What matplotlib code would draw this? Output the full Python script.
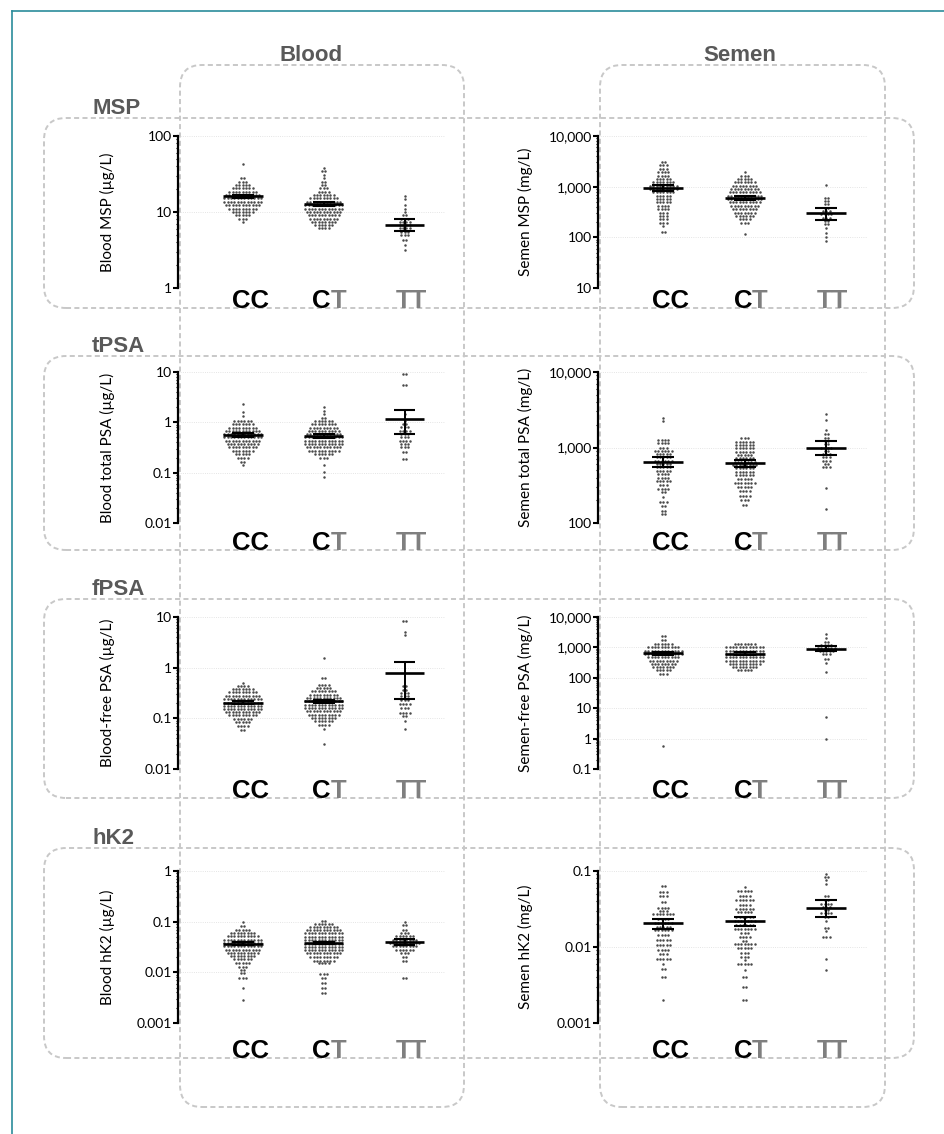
import matplotlib
matplotlib.use('Agg')
from matplotlib import pyplot as plt
from matplotlib.patches import FancyBboxPatch
from matplotlib.lines import Line2D
from matplotlib.transforms import IdentityTransform, blended_transform_factory
from matplotlib.ticker import LogLocator, FuncFormatter, NullFormatter

W, H = 945, 1134

genotypes = ['CC', 'CT', 'TT']
row_names = ['MSP', 'tPSA', 'fPSA', 'hK2']
col_names = ['Blood', 'Semen']

# each dot column is read as rows: (value, number of dots in that row)
blood_msp_cc = [(43, 1), (27.7, 2), (25, 3), (22.6, 5), (20.4, 7), (18.5, 9), (16.7, 11), (15.1, 12),
                (13.6, 12), (12.3, 11), (11.1, 9), (10, 7), (9.1, 5), (8.2, 3), (7.4, 1)]
blood_msp_ct = [(38, 1), (35, 2), (31, 1), (28, 1), (25, 2), (22.6, 2), (20.4, 3), (18.5, 4), (16.7, 7),
                (15.1, 9), (13.6, 11), (12.3, 12), (11.1, 12), (10, 11), (9.1, 10), (8.2, 9), (7.4, 8),
                (6.7, 6), (6.1, 4)]
blood_msp_tt = [(16, 1), (15, 1), (12.3, 1), (11.1, 1), (10, 1), (9.1, 2), (8.2, 3), (7.4, 4), (6.7, 4),
                (6.1, 4), (5.5, 3), (4.95, 3), (4.3, 2), (3.66, 1), (3.14, 1)]
blood_msp_mean = [16, 12.8, 6.7]
blood_msp_ci = [(15.3, 16.8), (12.1, 13.5), (5.6, 8.1)]

semen_msp_cc = [(3070, 2), (2630, 3), (2260, 3), (1930, 4), (1660, 4), (1420, 5), (1220, 7), (1050, 9),
                (900, 9), (770, 7), (660, 5), (570, 5), (490, 5), (420, 4), (360, 4), (307, 3), (263, 3),
                (226, 3), (194, 3), (166, 1), (128, 2)]
semen_msp_ct = [(1930, 1), (1660, 3), (1420, 5), (1220, 7), (1050, 8), (900, 9), (770, 10), (660, 11),
                (570, 11), (490, 10), (420, 9), (360, 8), (307, 7), (263, 6), (226, 4), (194, 3), (117, 1)]
semen_msp_tt = [(1100, 1), (610, 2), (520, 2), (450, 2), (385, 2), (330, 3), (283, 4), (243, 3), (210, 2),
                (180, 2), (155, 1), (122, 1), (100, 1), (83, 1)]
semen_msp_mean = [950, 600, 300]
semen_msp_ci = [(830, 1090), (550, 660), (215, 385)]

blood_tpsa_cc = [(2.3, 1), (1.6, 1), (1.35, 1), (1.06, 6), (0.91, 7), (0.78, 9), (0.67, 11), (0.58, 12),
                 (0.50, 12), (0.43, 11), (0.37, 10), (0.32, 9), (0.27, 7), (0.236, 5), (0.20, 4),
                 (0.165, 2), (0.14, 1)]
blood_tpsa_ct = [(1.98, 1), (1.7, 1), (1.46, 1), (1.22, 2), (1.06, 6), (0.91, 8), (0.78, 9), (0.67, 10),
                 (0.58, 11), (0.50, 12), (0.43, 12), (0.37, 12), (0.32, 11), (0.27, 10), (0.236, 6),
                 (0.20, 3), (0.14, 1), (0.105, 1), (0.082, 1)]
blood_tpsa_tt = [(9.0, 2), (5.5, 2), (1.46, 1), (1.08, 1), (0.93, 2), (0.80, 3), (0.68, 4), (0.59, 3),
                 (0.51, 3), (0.43, 4), (0.37, 3), (0.32, 3), (0.26, 2), (0.19, 2)]
blood_tpsa_mean = [0.55, 0.53, 1.16]
blood_tpsa_ci = [(0.50, 0.61), (0.48, 0.58), (0.59, 1.75)]

semen_tpsa_cc = [(2490, 1), (2250, 1), (1250, 4), (1130, 4), (1000, 3), (900, 6), (820, 5), (740, 5),
                 (670, 6), (600, 5), (545, 5), (490, 5), (445, 4), (400, 4), (362, 5), (318, 3), (281, 4),
                 (254, 2), (218, 1), (191, 3), (169, 2), (146, 2), (131, 2)]
semen_tpsa_ct = [(1320, 3), (1190, 6), (1070, 6), (970, 6), (875, 6), (790, 5), (715, 6), (645, 7),
                 (585, 8), (530, 6), (475, 6), (430, 6), (385, 5), (340, 7), (300, 5), (265, 4), (230, 4),
                 (200, 3), (175, 2)]
semen_tpsa_tt = [(2820, 1), (2320, 1), (1710, 1), (1490, 2), (1350, 2), (1220, 2), (1100, 2), (1000, 4),
                 (900, 2), (820, 3), (740, 3), (670, 3), (600, 2), (560, 3), (295, 1), (153, 1)]
semen_tpsa_mean = [650, 620, 1000]
semen_tpsa_ci = [(560, 740), (560, 680), (790, 1220)]

blood_fpsa_cc = [(0.495, 1), (0.44, 4), (0.375, 7), (0.325, 9), (0.28, 11), (0.24, 12), (0.205, 12),
                 (0.178, 12), (0.153, 12), (0.132, 11), (0.114, 9), (0.098, 6), (0.084, 5), (0.072, 4),
                 (0.06, 2)]
blood_fpsa_ct = [(1.54, 1), (0.63, 2), (0.46, 4), (0.40, 5), (0.34, 8), (0.29, 9), (0.25, 11), (0.215, 12),
                 (0.185, 12), (0.16, 12), (0.137, 11), (0.118, 10), (0.10, 8), (0.087, 6), (0.075, 4),
                 (0.062, 1), (0.031, 1)]
blood_fpsa_tt = [(8.3, 2), (5.0, 1), (4.5, 1), (0.43, 2), (0.37, 2), (0.32, 3), (0.27, 3), (0.23, 3),
                 (0.19, 4), (0.16, 3), (0.13, 4), (0.11, 2), (0.09, 1), (0.062, 1)]
blood_fpsa_mean = [0.205, 0.215, 0.77]
blood_fpsa_ci = [(0.19, 0.222), (0.20, 0.23), (0.24, 1.3)]

semen_fpsa_cc = [(2420, 2), (1700, 2), (1320, 6), (1000, 10), (790, 12), (620, 12), (480, 10), (370, 9),
                 (290, 8), (225, 7), (175, 5), (135, 3), (0.57, 1)]
semen_fpsa_ct = [(1320, 7), (1000, 12), (790, 12), (620, 12), (480, 12), (370, 12), (290, 10), (225, 8),
                 (175, 5)]
semen_fpsa_tt = [(2820, 1), (2070, 1), (1490, 2), (1160, 4), (950, 6), (760, 5), (590, 3), (420, 2),
                 (300, 1), (150, 1), (5.3, 1), (0.97, 1)]
semen_fpsa_mean = [640, 620, 900]
semen_fpsa_ci = [(560, 720), (570, 680), (790, 1150)]

blood_hk2_cc = [(0.097, 1), (0.082, 2), (0.07, 5), (0.06, 8), (0.052, 10), (0.044, 12), (0.038, 12),
                (0.033, 12), (0.028, 11), (0.024, 10), (0.021, 8), (0.018, 6), (0.015, 5), (0.0128, 3),
                (0.011, 2), (0.0095, 2), (0.0079, 3), (0.0048, 1), (0.0029, 1)]
blood_hk2_ct = [(0.104, 2), (0.092, 6), (0.08, 9), (0.068, 11), (0.059, 12), (0.050, 12), (0.043, 12),
                (0.037, 12), (0.032, 12), (0.027, 12), (0.024, 11), (0.020, 9), (0.017, 7), (0.015, 4),
                (0.0093, 3), (0.0076, 2), (0.0062, 2), (0.0048, 2), (0.0039, 2)]
blood_hk2_tt = [(0.098, 1), (0.086, 2), (0.07, 2), (0.06, 3), (0.052, 6), (0.044, 8), (0.038, 10),
                (0.033, 8), (0.028, 6), (0.024, 3), (0.02, 2), (0.0165, 2), (0.0076, 2)]
blood_hk2_mean = [0.037, 0.038, 0.040]
blood_hk2_ci = [(0.035, 0.039), (0.036, 0.040), (0.035, 0.045)]

semen_hk2_cc = [(0.063, 2), (0.053, 3), (0.047, 3), (0.039, 2), (0.033, 4), (0.030, 3), (0.027, 7),
                (0.0237, 4), (0.0208, 6), (0.0185, 5), (0.0167, 6), (0.0143, 4), (0.0123, 5), (0.0106, 5),
                (0.0091, 4), (0.008, 3), (0.007, 5), (0.0059, 1), (0.0051, 2), (0.004, 2), (0.002, 1)]
semen_hk2_ct = [(0.062, 1), (0.055, 5), (0.047, 4), (0.041, 6), (0.036, 4), (0.032, 6), (0.029, 5),
                (0.025, 6), (0.022, 7), (0.0194, 6), (0.0175, 7), (0.0154, 3), (0.0136, 4), (0.012, 2),
                (0.011, 7), (0.0096, 5), (0.0084, 3), (0.0074, 3), (0.0067, 1), (0.006, 5), (0.005, 1),
                (0.004, 2), (0.003, 2), (0.002, 2)]
semen_hk2_tt = [(0.091, 1), (0.083, 2), (0.075, 1), (0.067, 1), (0.047, 2), (0.042, 2), (0.037, 4),
                (0.034, 3), (0.031, 2), (0.028, 4), (0.0245, 2), (0.022, 1), (0.018, 2), (0.016, 1),
                (0.0136, 3), (0.0069, 1), (0.005, 1)]
semen_hk2_mean = [0.021, 0.022, 0.033]
semen_hk2_ci = [(0.0175, 0.0233), (0.0188, 0.0245), (0.0245, 0.0415)]

panels = [
    (0, 0, 'Blood MSP (µg/L)', [blood_msp_cc, blood_msp_ct, blood_msp_tt], blood_msp_mean, blood_msp_ci, (1, 100)),
    (0, 1, 'Semen MSP (mg/L)', [semen_msp_cc, semen_msp_ct, semen_msp_tt], semen_msp_mean, semen_msp_ci, (10, 10000)),
    (1, 0, 'Blood total PSA (µg/L)', [blood_tpsa_cc, blood_tpsa_ct, blood_tpsa_tt], blood_tpsa_mean, blood_tpsa_ci, (0.01, 10)),
    (1, 1, 'Semen total PSA (mg/L)', [semen_tpsa_cc, semen_tpsa_ct, semen_tpsa_tt], semen_tpsa_mean, semen_tpsa_ci, (100, 10000)),
    (2, 0, 'Blood-free PSA (µg/L)', [blood_fpsa_cc, blood_fpsa_ct, blood_fpsa_tt], blood_fpsa_mean, blood_fpsa_ci, (0.01, 10)),
    (2, 1, 'Semen-free PSA (mg/L)', [semen_fpsa_cc, semen_fpsa_ct, semen_fpsa_tt], semen_fpsa_mean, semen_fpsa_ci, (0.1, 10000)),
    (3, 0, 'Blood hK2 (µg/L)', [blood_hk2_cc, blood_hk2_ct, blood_hk2_tt], blood_hk2_mean, blood_hk2_ci, (0.001, 1)),
    (3, 1, 'Semen hK2 (mg/L)', [semen_hk2_cc, semen_hk2_ct, semen_hk2_tt], semen_hk2_mean, semen_hk2_ci, (0.001, 0.1)),
]

# layout in pixels
col_x = [(178, 445), (598, 867)]
row_y = [(136, 288), (372, 523), (617, 769), (871, 1023)]
row_box = [(118, 308), (356, 550), (599, 798), (848, 1058)]
col_box = [(180, 464), (600, 885)]
ylabel_x = [107, 525]
dot_dx = 0.041
gray_t = '#7f7f7f'
title_gray = '#595959'

plt.rcParams['font.family'] = ['Lato', 'DejaVu Sans']

fig = plt.figure(figsize=(W / 100, H / 100), dpi=100)


def fx(x):
    return x / W


def fy(y):
    return 1 - y / H


def tick_fmt(v, pos):
    if v >= 1:
        return f'{v:,.0f}'
    return f'{v:g}'


def dashed_box(x0, y0, x1, y1):
    box = FancyBboxPatch((x0, H - y1), x1 - x0, y1 - y0,
                         boxstyle='round,pad=0,rounding_size=22',
                         transform=IdentityTransform(), fill=False,
                         edgecolor='#c8c8c8', lw=1.4, linestyle=(0, (2.6, 1.7)), zorder=-1)
    fig.add_artist(box)


for x0, x1 in col_box:
    dashed_box(x0, 65, x1, 1107)
for y0, y1 in row_box:
    dashed_box(44, y0, 914, y1)

# teal frame
fig.add_artist(Line2D([12, 12], [0, H - 11], transform=IdentityTransform(), color='#2b8c9b', lw=1.2))
fig.add_artist(Line2D([12, W], [H - 11, H - 11], transform=IdentityTransform(), color='#2b8c9b', lw=1.2))

for r, c, ylab, groups, means, cis, ylim in panels:
    x0, x1 = col_x[c]
    y0, y1 = row_y[r]
    ax = fig.add_axes([fx(x0), fy(y1), (x1 - x0) / W, (y1 - y0) / H])
    ax.set_facecolor('none')
    ax.set_yscale('log')
    ax.set_ylim(*ylim)
    ax.set_xlim(-0.8, 2.5)

    for i, rows in enumerate(groups):
        xs, ys = [], []
        for v, n in rows:
            for k in range(n):
                xs.append(i + (k - (n - 1) / 2) * dot_dx)
                ys.append(v)
        ax.scatter(xs, ys, s=3.2, color='#4a4a4a', lw=0, zorder=2, clip_on=False)
        ax.plot([i - 0.245, i + 0.245], [means[i], means[i]], color='black', lw=1.9, zorder=3,
                solid_capstyle='butt')
        lo, hi = cis[i]
        ax.plot([i, i], [lo, hi], color='black', lw=1.4, zorder=3)
        for yv in (lo, hi):
            ax.plot([i - 0.135, i + 0.135], [yv, yv], color='black', lw=1.5, zorder=3,
                    solid_capstyle='butt')

    for s in ['top', 'right', 'bottom']:
        ax.spines[s].set_visible(False)
    ax.spines['left'].set_linewidth(1.6)
    ax.set_xticks([])
    ax.yaxis.set_major_locator(LogLocator(base=10, numticks=10))
    ax.yaxis.set_minor_locator(LogLocator(base=10, subs=range(2, 10), numticks=10))
    ax.yaxis.set_major_formatter(FuncFormatter(tick_fmt))
    ax.yaxis.set_minor_formatter(NullFormatter())
    ax.tick_params(axis='y', which='major', length=3.5, width=1.5, labelsize=10, pad=1)
    ax.tick_params(axis='y', which='minor', length=1.6, width=0.8)
    ax.yaxis.grid(True, which='major', color='#dcdcdc', lw=0.6, ls=':')
    ax.set_axisbelow(True)

    fig.text(fx(ylabel_x[c]), fy((y0 + y1) / 2), ylab, rotation=90, ha='center', va='center',
             fontsize=11)

    # genotype labels sitting on the row box line
    tr = blended_transform_factory(ax.transData, fig.transFigure)
    base = fy(row_box[r][1])
    lab_kw = dict(transform=tr, fontsize=18.5, fontweight='bold', va='baseline',
                  family=['Liberation Sans', 'DejaVu Sans'], clip_on=False)
    ax.text(0.09, base, 'CC', ha='center', color='black', **lab_kw)
    ax.text(1.09, base, 'C', ha='right', color='black', **lab_kw)
    ax.text(1.09, base, 'T', ha='left', color=gray_t, **lab_kw)
    ax.text(2.08, base, 'TT', ha='center', color=gray_t, **lab_kw)

title_kw = dict(fontsize=16, fontweight='bold', color=title_gray, family=['Liberation Sans', 'DejaVu Sans'])
fig.text(fx(311), fy(61), col_names[0], ha='center', va='baseline', **title_kw)
fig.text(fx(740), fy(61), col_names[1], ha='center', va='baseline', **title_kw)
for (top, _), name in zip(row_box, row_names):
    fig.text(fx(92), fy(top - 4), name, ha='left', va='baseline', **title_kw)

fig.savefig('out.png', dpi=100)
